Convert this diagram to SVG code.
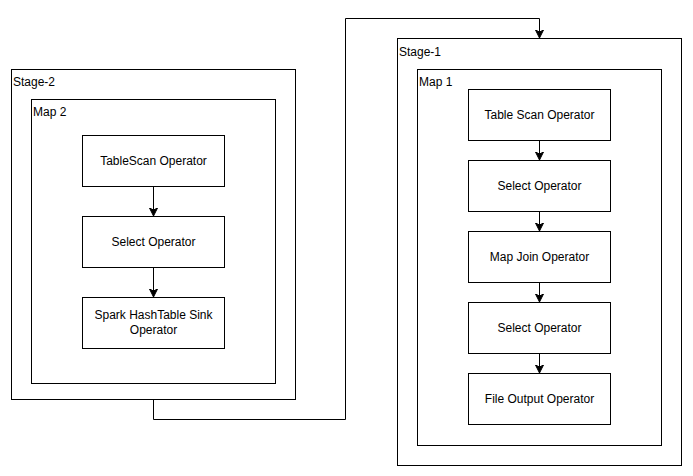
<svg xmlns="http://www.w3.org/2000/svg" width="693" height="476" viewBox="0 0 693 476">
<style>
.c{fill:#fff;stroke:#000;stroke-width:1}
.t{font-family:"Liberation Sans",Arial,sans-serif;font-size:12px;fill:#000}
.m{text-anchor:middle}
.e{fill:none;stroke:#000;stroke-width:1}
</style>
<defs>
<marker id="a" markerWidth="10" markerHeight="10" refX="8" refY="4" orient="auto" markerUnits="userSpaceOnUse">
<path d="M0,0 L8,4 L0,8 L2,4 Z" fill="#000" stroke="#000" stroke-width="1"/>
</marker>
</defs>
<rect width="693" height="476" fill="#fff"/>
<g id="stage2"><rect class="c" x="11.5" y="69.5" width="284" height="330"/><text class="t" x="13" y="86">Stage-2</text></g>
<g id="map2"><rect class="c" x="31.5" y="99.5" width="244" height="284"/><text class="t" x="33" y="116">Map 2</text></g>
<g id="stage1"><rect class="c" x="397.5" y="38.5" width="284" height="427"/><text class="t" x="399" y="56">Stage-1</text></g>
<g id="map1"><rect class="c" x="417.5" y="69.5" width="244" height="376"/><text class="t" x="419" y="86">Map 1</text></g>
<g id="tablescan2"><rect class="c" x="82.5" y="135.5" width="142" height="51"/><text class="t m" x="153.5" y="165">TableScan Operator</text></g>
<g id="select2"><rect class="c" x="82.5" y="216.5" width="142" height="51"/><text class="t m" x="153.5" y="246">Select Operator</text></g>
<g id="sink2"><rect class="c" x="82.5" y="297.5" width="142" height="51"/><text class="t m" x="153.5" y="319">Spark HashTable Sink</text><text class="t m" x="153.5" y="334">Operator</text></g>
<g id="tablescan1"><rect class="c" x="468.5" y="89.5" width="142" height="51"/><text class="t m" x="539.5" y="119">Table Scan Operator</text></g>
<g id="select1a"><rect class="c" x="468.5" y="160.5" width="142" height="51"/><text class="t m" x="539.5" y="190">Select Operator</text></g>
<g id="mapjoin1"><rect class="c" x="468.5" y="231.5" width="142" height="51"/><text class="t m" x="539.5" y="261">Map Join Operator</text></g>
<g id="select1b"><rect class="c" x="468.5" y="302.5" width="142" height="51"/><text class="t m" x="539.5" y="332">Select Operator</text></g>
<g id="fileout1"><rect class="c" x="468.5" y="373.5" width="142" height="51"/><text class="t m" x="539.5" y="403">File Output Operator</text></g>
<g id="connectors">
<path class="e" d="M153.5,186.5 V216" marker-end="url(#a)"/>
<path class="e" d="M153.5,267.5 V297" marker-end="url(#a)"/>
<path class="e" d="M539.5,140.5 V160" marker-end="url(#a)"/>
<path class="e" d="M539.5,211.5 V231" marker-end="url(#a)"/>
<path class="e" d="M539.5,282.5 V302" marker-end="url(#a)"/>
<path class="e" d="M539.5,353.5 V373" marker-end="url(#a)"/>
<path class="e" d="M153.5,399.5 V419.5 H345.5 V18.5 H539.5 V38" marker-end="url(#a)"/>
</g>
</svg>
